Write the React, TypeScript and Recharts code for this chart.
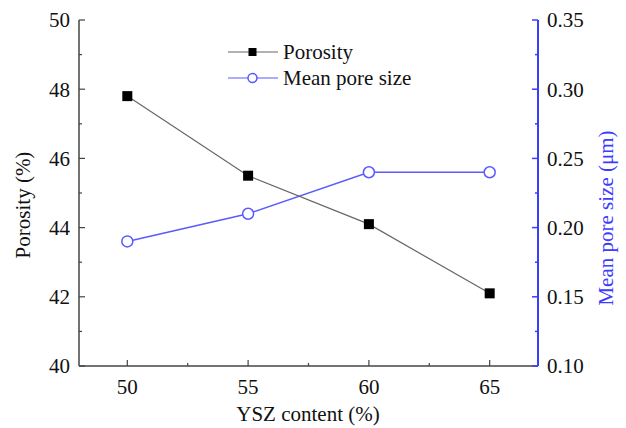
import { Line, LineChart, XAxis, YAxis } from "recharts";

const ysz = [50, 55, 60, 65];
const porosity = [47.8, 45.5, 44.1, 42.1];
const poreSize = [0.19, 0.21, 0.24, 0.24];

const xTicks = [50, 52.5, 55, 57.5, 60, 62.5, 65];
const leftTicks = [40, 41, 42, 43, 44, 45, 46, 47, 48, 49, 50];
const rightTicks = [0.1, 0.125, 0.15, 0.175, 0.2, 0.225, 0.25, 0.275, 0.3, 0.325, 0.35];

const data = ysz.map((x, i) => ({ x, porosity: porosity[i], pore: poreSize[i] }));

const FONT = '"Liberation Serif", "DejaVu Serif", serif';
const BLUE = "#3c3cff";
const LINE_BLUE = "#5a5aff";
const DARK = "#444";

function BottomTick(props: any) {
  const { x, y, payload, index } = props;
  const major = index % 2 === 0;
  return (
    <g>
      <line x1={x} x2={x} y1={y} y2={y - (major ? 6 : 3)} stroke={DARK} strokeWidth={1.2} />
      {major && (
        <text x={x} y={y + 28} textAnchor="middle" style={{ fontSize: 21, fontFamily: FONT }} fill="#111">
          {payload.value}
        </text>
      )}
    </g>
  );
}

function TopTick(props: any) {
  const { x, y } = props;
  return <line x1={x} x2={x} y1={y} y2={y + 5} stroke={DARK} strokeWidth={1.2} />;
}

function LeftTick(props: any) {
  const { x, y, payload, index } = props;
  const major = index % 2 === 0;
  return (
    <g>
      <line x1={x} x2={x + (major ? 6 : 3)} y1={y} y2={y} stroke={DARK} strokeWidth={1.2} />
      {major && (
        <text x={x - 9} y={y} dy="0.35em" textAnchor="end" style={{ fontSize: 21, fontFamily: FONT }} fill="#111">
          {payload.value}
        </text>
      )}
    </g>
  );
}

function RightTick(props: any) {
  const { x, y, payload, index } = props;
  const major = index % 2 === 0;
  return (
    <g>
      <line x1={x} x2={x - (major ? 6 : 3)} y1={y} y2={y} stroke={BLUE} strokeWidth={1.5} />
      {major && (
        <text x={x + 9} y={y} dy="0.35em" textAnchor="start" style={{ fontSize: 21, fontFamily: FONT }} fill="#111">
          {Number(payload.value).toFixed(2)}
        </text>
      )}
    </g>
  );
}

function SquareDot(props: any) {
  const { cx, cy, index } = props;
  if (cx == null || cy == null) return null;
  return <rect key={`sq-${index}`} x={cx - 5} y={cy - 5} width={10} height={10} fill="#000" />;
}

function LegendBox() {
  const row = (label: string, marker: any, color: string) => (
    <div style={{ display: "flex", alignItems: "center", height: 26 }}>
      <svg width={54} height={20}>
        <line x1={2} x2={52} y1={10} y2={10} stroke={color} strokeWidth={1.2} />
        {marker}
      </svg>
      <span style={{ fontFamily: FONT, fontSize: 21, color: "#111", marginLeft: 3, lineHeight: "26px" }}>
        {label}
      </span>
    </div>
  );
  return (
    <div style={{ position: "absolute", left: 226, top: 39 }}>
      {row("Porosity", <rect x={22.5} y={6} width={8} height={8} fill="#000" />, "#666")}
      {row(
        "Mean pore size",
        <circle cx={26.5} cy={10} r={4.5} fill="#fff" stroke={LINE_BLUE} strokeWidth={1.5} />,
        LINE_BLUE
      )}
    </div>
  );
}

export default function App() {
  return (
    <div style={{ position: "absolute", left: 0, top: 0, width: 626, height: 428, background: "#fff" }}>
      <LineChart width={626} height={428} data={data} margin={{ top: 20, right: 0, bottom: 0, left: 0 }}>
        <XAxis
          xAxisId="b"
          dataKey="x"
          type="number"
          domain={[48, 67]}
          ticks={xTicks}
          interval={0}
          height={62}
          tickSize={0}
          tickMargin={0}
          tickLine={false}
          axisLine={{ stroke: DARK, strokeWidth: 1.5 }}
          tick={<BottomTick />}
          label={() => (
            <text x={308} y={421} textAnchor="middle" style={{ fontSize: 21, fontFamily: FONT }} fill="#111">
              YSZ content (%)
            </text>
          )}
        />
        <XAxis
          xAxisId="t"
          orientation="top"
          dataKey="x"
          type="number"
          domain={[48, 67]}
          ticks={xTicks}
          interval={0}
          height={0}
          tickSize={0}
          tickMargin={0}
          tickLine={false}
          axisLine={{ stroke: DARK, strokeWidth: 1.5 }}
          tick={<TopTick />}
        />
        <YAxis
          yAxisId="l"
          orientation="left"
          domain={[40, 50]}
          ticks={leftTicks}
          interval={0}
          width={79}
          tickSize={0}
          tickMargin={0}
          tickLine={false}
          axisLine={{ stroke: DARK, strokeWidth: 1.5 }}
          tick={<LeftTick />}
          label={() => (
            <text
              x={30}
              y={205}
              transform="rotate(-90 30 205)"
              textAnchor="middle"
              style={{ fontSize: 21, fontFamily: FONT }}
              fill="#111"
            >
              Porosity (%)
            </text>
          )}
        />
        <YAxis
          yAxisId="r"
          orientation="right"
          domain={[0.1, 0.35]}
          ticks={rightTicks}
          interval={0}
          width={88}
          tickSize={0}
          tickMargin={0}
          tickLine={false}
          axisLine={{ stroke: BLUE, strokeWidth: 2 }}
          tick={<RightTick />}
          label={() => (
            <text
              x={613}
              y={218}
              transform="rotate(-90 613 218)"
              textAnchor="middle"
              style={{ fontSize: 21, fontFamily: FONT }}
              fill={BLUE}
            >
              Mean pore size (μm)
            </text>
          )}
        />
        <Line
          xAxisId="b"
          yAxisId="r"
          dataKey="pore"
          stroke={LINE_BLUE}
          strokeWidth={1.5}
          dot={{ r: 5.5, fill: "#fff", stroke: LINE_BLUE, strokeWidth: 1.5 }}
          activeDot={false}
          isAnimationActive={false}
        />
        <Line
          xAxisId="b"
          yAxisId="l"
          dataKey="porosity"
          stroke="#666"
          strokeWidth={1.2}
          dot={<SquareDot />}
          activeDot={false}
          isAnimationActive={false}
        />
      </LineChart>
      <LegendBox />
    </div>
  );
}
